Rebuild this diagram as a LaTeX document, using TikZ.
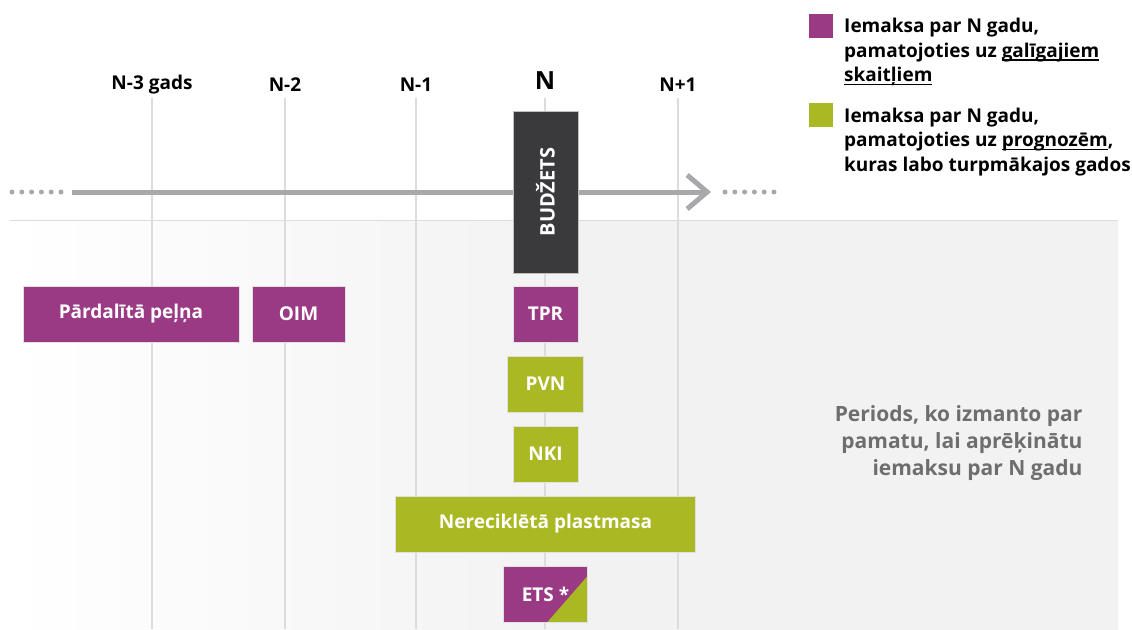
\documentclass[tikz,border=0pt]{standalone}
\usepackage{fontspec}
\setmainfont{Open Sans}
\usetikzlibrary{positioning,arrows.meta}

\definecolor{plum}{HTML}{9A3A84}
\definecolor{lime}{HTML}{A9B823}
\definecolor{darkbox}{HTML}{3A3A3C}
\definecolor{axisgrey}{HTML}{A8A8AB}
\definecolor{gridgrey}{HTML}{DCDCDC}
\definecolor{notegrey}{HTML}{6E6E6E}

% underline with a thicker rule
\newcommand\uln[1]{\leavevmode\setbox0\hbox{#1}\rlap{\rule[-3.5pt]{\wd0}{1.3pt}}\box0}

\begin{document}
\begin{tikzpicture}[x=1pt, y=-1pt, node distance=70pt,
    every node/.style={font=\bfseries\fontsize{19}{24.5}\selectfont},
    box/.style={draw=black!12, line width=0.8pt, text=white, inner sep=0pt, minimum height=56pt},
    final/.style={box, fill=plum},
    forecast/.style={box, fill=lime},
    key/.style={minimum size=24pt, inner sep=0pt},
    grid/.style={draw=gridgrey, line width=1.6pt},
    dots/.style={axisgrey, line width=5pt, line cap=round, dash pattern=on 0pt off 9.8pt}]

    \useasboundingbox (0,0) rectangle (1132,629);

    % background of the lower part
    \shade[left color=white, right color=black!5, middle color=black!5] (10,220) rectangle (1118,629);
    \draw[gridgrey, line width=1pt] (10,220) -- (1118,220);

    % years
    \foreach \x in {152,285,416,545,678}
        \draw[grid] (\x,98) -- (\x,629);
    \node (n3) at (152,85) {N-3 gads};
    \node (n2) at (285,85) {N-2};
    \node (n1) at (416,85) {N-1};
    \node[font=\bfseries\fontsize{25}{28}\selectfont] (n0) at (545,81) {N};
    \node (np1) at (678,85) {N+1};

    % time axis
    \coordinate (axisstart) at (72,192);
    \coordinate (axisend) at (711,192);
    \draw[axisgrey, line width=5pt, -{Straight Barb[length=20pt, width=34pt]}] (axisstart) -- (axisend);
    \draw[dots] (12,192) -- (62,192);
    \draw[dots] (725,192) -- (775,192);

    \node[draw=black!25, fill=darkbox, text=white, rotate=90, minimum width=162pt, minimum height=65pt, inner sep=0pt, font=\bfseries\fontsize{20}{24}\selectfont] (budzets) at (545.5,192) {BUDŽETS};

    % contributions
    \node[final, minimum width=216pt] (pelna) at (131,314) {Pārdalītā peļņa};
    \node[final, minimum width=93pt] (oim) at (298.5,314) {OIM};
    \node[final, minimum width=65pt] (tpr) at (545.5,314) {TPR};
    \node[forecast, minimum width=76pt, below of=tpr] (pvn) {PVN};
    \node[forecast, minimum width=65pt, below of=pvn] (nki) {NKI};
    \node[forecast, minimum width=300pt, below of=nki] (plastmasa) {Nereciklētā plastmasa};
    \node[final, minimum width=84pt, below of=plastmasa,
        path picture={\fill[lime] ([yshift=46pt]path picture bounding box.south east) -- (path picture bounding box.south east) -- ([xshift=-40pt]path picture bounding box.south east) -- cycle;}] (ets) {ETS *};

    % legend
    \node[key, fill=plum] (keyfinal) at (820.5,25.5) {};
    \node[anchor=north west, align=left, inner sep=0pt] (legfinal) at (844,18) {Iemaksa par N gadu,\\pamatojoties uz \uln{galīgajiem}\\\uln{skaitļiem}};
    \node[key, fill=lime] (keyforecast) at (820.5,114.5) {};
    \node[anchor=north west, align=left, inner sep=0pt] (legforecast) at (844,107.5) {Iemaksa par N gadu,\\pamatojoties uz \uln{prognozēm},\\kuras labo turpmākajos gados};

    \node[anchor=east, align=right, text=notegrey, font=\bfseries\fontsize{21}{26.7}\selectfont] (note) at (1086,443) {Periods, ko izmanto par\\pamatu, lai aprēķinātu\\iemaksu par N gadu};
\end{tikzpicture}
\end{document}
